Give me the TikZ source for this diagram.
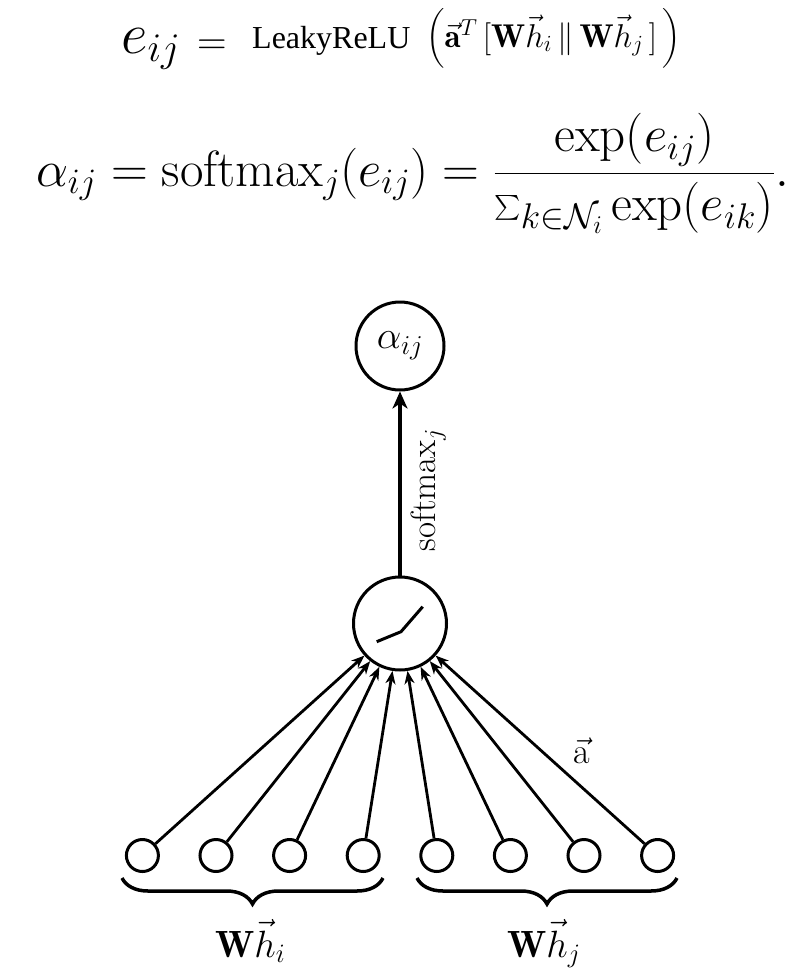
\RequirePackage{fix-cm}
\documentclass[tikz,border=0pt]{standalone}
\usepackage{amsmath}
\usepackage{fontspec}
\newfontfamily\timesf{Liberation Serif}
\usetikzlibrary{decorations.pathreplacing,arrows.meta,calc}
\tikzset{
  every node/.style={inner sep=0pt},
  unit/.style={circle,draw,line width=3pt},
  inarrow/.style={line width=2.8pt,-{Stealth[length=13pt,width=10pt,inset=4pt]}},
  outarrow/.style={line width=4pt,-{Stealth[length=17pt,width=15pt,inset=5pt]}},
  bracestyle/.style={decorate,decoration={brace,mirror,amplitude=26pt},line width=3.5pt},
  lab/.style={font=\fontsize{38}{42}\selectfont}
}
\begin{document}
\begin{tikzpicture}[x=1pt,y=-1pt]
\useasboundingbox (0,0) rectangle (809,978);
% equations
\node[anchor=base west,font=\fontsize{58}{60}\selectfont] (e) at (121,53) {$e_{ij}$};
\node[anchor=base west,font=\fontsize{41}{44}\selectfont] (eq) at (197,54.5) {$=$};
\node[anchor=base west,font={\fontsize{32}{36}\timesf\selectfont}] (lrelu) at (252,48) {LeakyReLU};
\node[anchor=base west,font=\fontsize{33}{36}\selectfont] (expr) at (426,47)
  {$\Big(\vec{\mathbf{a}}^T\,[\mathbf{W}\vec{h}_i\,\|\,\mathbf{W}\vec{h}_j\,]\,\Big)$};
\node[anchor=base west,font=\fontsize{51}{58}\selectfont] (l2) at (36,186)
  {$\alpha_{ij}=\mathrm{softmax}_j(e_{ij})=\dfrac{\exp(e_{ij})}{\sum_{k\in\mathcal{N}_i}\exp(e_{ik})}.$};
% diagram
\node[unit,minimum size=88pt,font=\fontsize{39}{44}\selectfont] (alpha) at (400,346) {$\alpha_{ij}$};
\node[unit,minimum size=93pt] (mid) at (400,623.5) {};
\foreach \k in {0,...,7}
  \node[unit,minimum size=32pt] (in\k) at ({400+(\k-3.5)*73.6},855.5) {};
\foreach \k in {0,...,7}
  \draw[inarrow] (in\k) -- (mid);
\draw[outarrow] (mid) -- (alpha);
\draw[line width=3pt] ($(mid.center)+(-23.3,18.2)$) -- ($(mid.center)+(1,8.2)$) -- ($(mid.center)+(22.7,-16.8)$);
\node[rotate=90,font=\fontsize{35}{40}\selectfont] (sm) at (428.5,490) {$\mathrm{softmax}_j$};
\node[font=\fontsize{36}{40}\selectfont] (alab) at (582,751) {$\vec{\mathrm{a}}$};
% braces
\coordinate (b1l) at (122,878);
\coordinate (b1r) at (383,878);
\coordinate (b2l) at (417,878);
\coordinate (b2r) at (677,878);
\draw[bracestyle] (b1l) -- (b1r);
\draw[bracestyle] (b2l) -- (b2r);
\node[lab,anchor=base west] (whi) at (215,957) {$\mathbf{W}\vec{h}_i$};
\node[lab,anchor=base west] (whj) at (507,957) {$\mathbf{W}\vec{h}_j$};
\end{tikzpicture}
\end{document}
